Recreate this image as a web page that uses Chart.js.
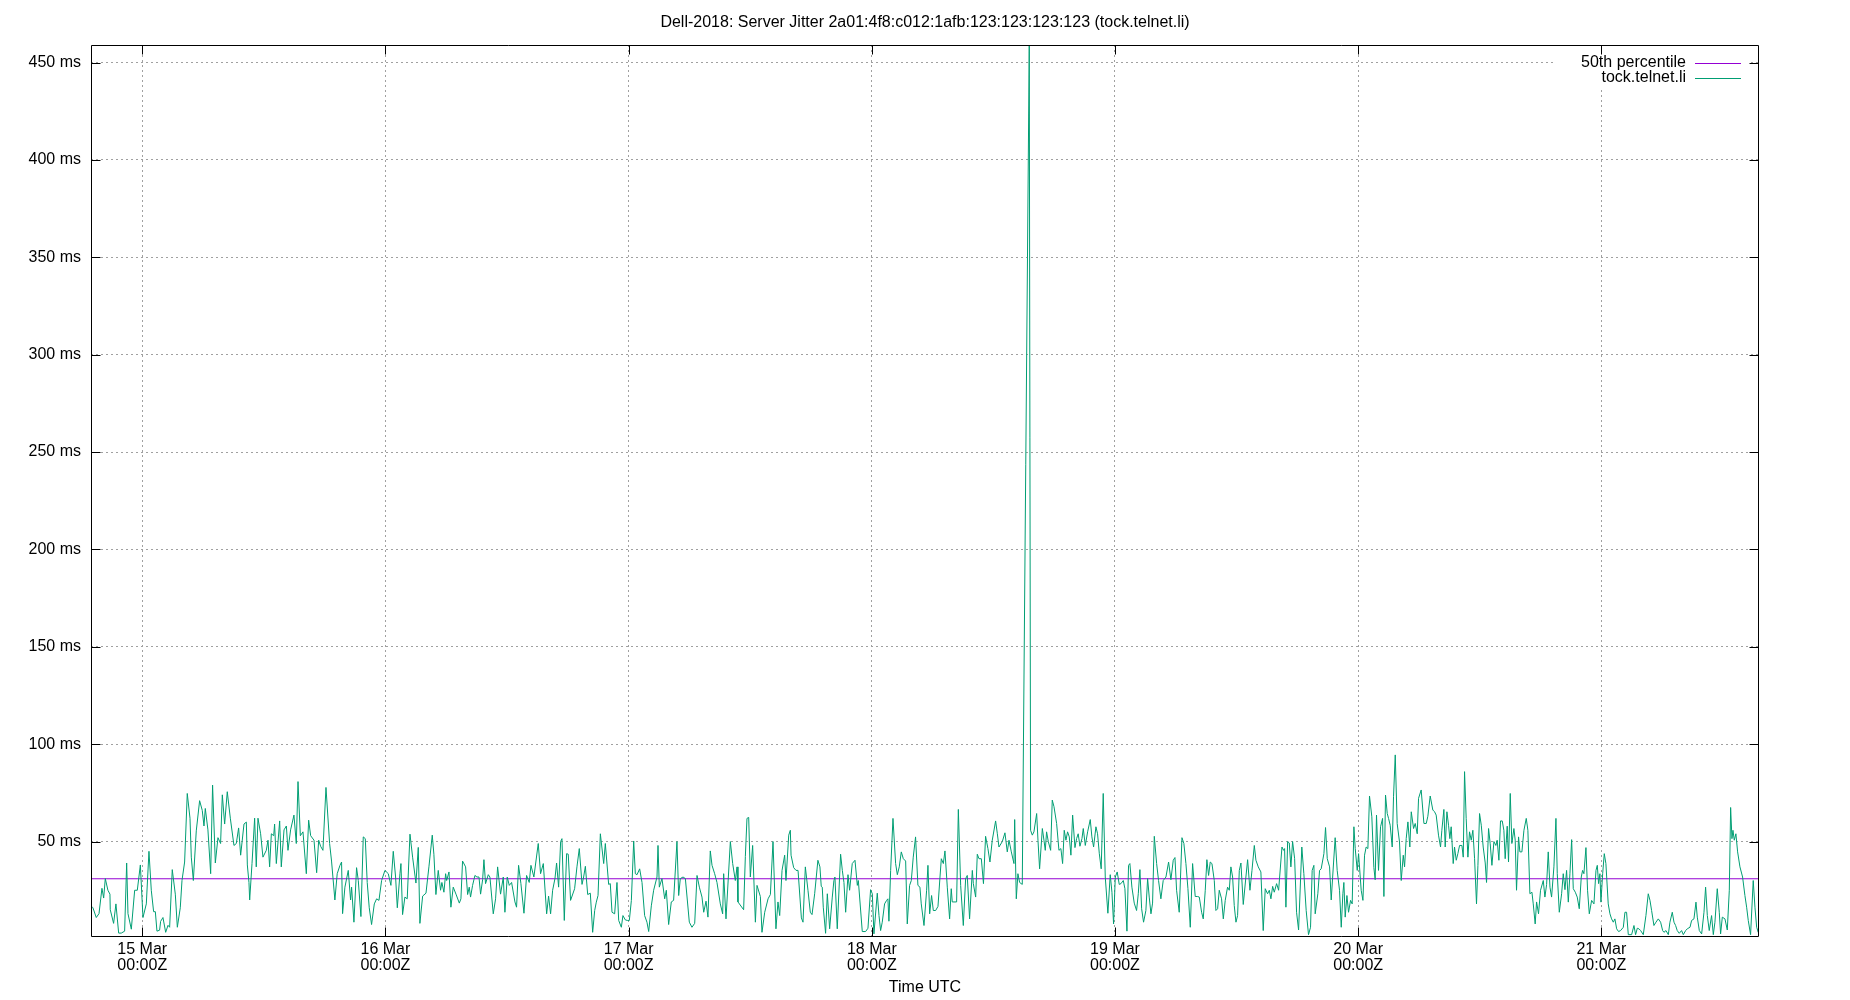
<!DOCTYPE html>
<html><head><meta charset="utf-8">
<script src="https://cdn.jsdelivr.net/npm/chart.js@4.4.1/dist/chart.umd.min.js"></script>
<style>html,body{margin:0;padding:0;background:#fff;}canvas{display:block;}</style>
</head><body>
<canvas id="c" width="1850" height="1000"></canvas>
<script>
const titleText = "Dell-2018: Server Jitter 2a01:4f8:c012:1afb:123:123:123:123 (tock.telnet.li)";
const xAxisTitle = "Time UTC";
const seriesNames = ["50th percentile", "tock.telnet.li"];
const xTickHours = [0, 24, 48, 72, 96, 120, 144];
const xTickLabels = [["15 Mar","00:00Z"],["16 Mar","00:00Z"],["17 Mar","00:00Z"],["18 Mar","00:00Z"],["19 Mar","00:00Z"],["20 Mar","00:00Z"],["21 Mar","00:00Z"]];
const yTickValues = [50, 100, 150, 200, 250, 300, 350, 400, 450];
const xRange = [-5.06, 159.56];
const yRange = [1, 459];
const p50 = [30.9, 30.9];

// hours since 15 Mar 00:00Z, jitter in ms
const hoursA = [-5.06,-4.87,-4.54,-4.27,-3.98,-3.81,-3.65,-3.39,-3.19,-3.16,
-2.83,-2.6,-2.33,-2.07,-1.74,-1.54,-1.41,-1.08,-0.75,-0.49,
-0.19,0.07,0.4,0.66,0.89,1.12,1.29,1.45,1.71,1.81,
2.04,2.31,2.54,2.7,2.96,3.26,3.46,3.75,3.92,4.18,
4.44,4.71,4.84,5.04,5.33,5.66,5.92,6.09,6.22,6.48,
6.75,6.94,7.21,7.47,7.73,7.9,8.13,8.39,8.69,9.05,
9.28,9.51,9.71,10.04,10.27,10.37,10.53,10.6,10.83,11.09,
11.25,11.42,11.68,11.91,12.24,12.41,12.57,12.74,12.97,13.06,
13.23,13.56,13.72,13.99,14.22,14.38,14.64,14.97,15.2,15.37,
15.6,15.86,16.19,16.42,16.62,16.95,17.21,17.41,17.6,17.83,
18.13,18.49];
const jitterA = [17,16,11,13,26,21,31,25,23,15,
8,18,3,3,4,39,13,5,25,25,
38,11,18,45,25,14,14,4,4.5,9,
11,3.4,7,6,35.6,23,6,16,30,39.5,
74.7,62,42,30,55.5,71,66,58,67,56,
33.5,79,39,52,49,74,59,75.6,62,48,
49,57,43,59,60,38,29,20,38.7,62,
37,62,54,42,45.5,50.7,37,54,53,59,
38.7,60.6,37,56,58,45.5,56,63.6,49,80.8,
53,55,33.5,61,53,50.7,34,50.7,47.6,45.5,
77.8,49];

const hoursB = [18.68,19.01,19.24,19.51,19.67,19.77,20,20.33,20.56,20.66,
20.89,21.15,21.32,21.58,21.81,22.01,22.2,22.4,22.63,22.9,
23.13,23.36,23.62,23.95,24.28,24.54,24.77,25,25.17,25.43,
25.53,25.69,25.92,26.15,26.42,26.68,27.01,27.24,27.4,27.67,
28,28.29,28.62,28.78,28.98,29.21,29.44,29.57,29.77,29.94,
30.04,30.27,30.46,30.69,30.96,31.29,31.45,31.61,31.91,32.11,
32.27,32.4,32.6,32.83,33.03,33.23,33.39,33.59,33.72,33.88,
34.15,34.31,34.64,34.87,35.07,35.36,35.63,35.79,36.02,36.22,
36.45,36.78,36.94,37.14,37.37,37.67,37.93,38.19,38.36,38.65,
39.08,39.31,39.58,39.91,40.1,40.3,40.5,40.73,40.89,41.09,
41.29,41.42,41.65,41.88,42.04,42.27];
const jitterB = [40,20,33.5,37.8,39.5,13,26.6,35.2,20,26.6,
8.6,36.6,30,11.5,52.4,51.5,29,16,7.4,18,
20.6,19.8,30,35.2,33.5,27.5,45,31.8,16,33.5,
38.7,12.5,21.5,20.6,53.8,42,28.7,47,8,22,
23.5,37,53.3,43.5,22.8,35.2,25,29,24,33.5,
30,34.4,16.3,26.6,23,18.4,20.6,40,37,22.8,
26.6,21.5,27.5,32.6,31.8,31.8,23,30.4,40.7,28.4,
33,31.8,12.9,20.6,37,23,31.8,13.7,31.8,27.5,
29,19,16.3,37.8,28.4,13.2,32.6,29,37.8,31.8,
49,33.5,38.7,12.9,22,12.9,25,31,39,26.6,
50,51.5,9.5,43.8,43.5,19.8];

const hoursC = [42.67,42.9,43.13,43.4,43.56,43.73,43.96,44.22,44.45,44.65,
44.81,44.98,45.21,45.54,45.7,46.03,46.19,46.36,46.62,46.85,
47.02,47.28,47.44,47.67,47.87,48.07,48.27,48.5,48.66,48.83,
49.09,49.32,49.58,49.81,49.98,50.24,50.47,50.8,50.9,51.03,
51.29,51.56,51.72,51.95,52.21,52.44,52.77,52.94,53.1,53.37,
53.6,53.99,54.25,54.52,54.75,54.98,55.24,55.41,55.64,55.83,
56.06,56.23,56.49,56.72,57.05,57.28,57.38,57.61,58.04,58.27,
58.53,58.7,58.79,59.35,59.52,59.68,59.85,60.01,60.24,60.51,
60.67,61,61.16,61.43,61.76,61.99,62.25,62.54,62.74,62.91,
63.14,63.4,63.53,63.8,63.96,64.03,64.29,64.52,64.72,65.05,
65.21,65.44,65.7,65.93,66.1,66.36];
const jitterC = [25.8,37,46.4,28,31.8,37.3,22.8,23.5,3.4,14.6,
18.9,22.3,54,38.7,49,28,28.4,13.7,12.9,29,
9.5,6,12,9.8,9.5,9.5,19.8,50.3,33.5,33,
36,29,12,8.6,3.8,17,25,31.8,48,26.6,
31,20.6,25,7.4,19,19.8,50,22.3,31,31.8,
31,8.6,6,8,32.6,26.6,21.5,13.7,19.4,11.2,
45.2,37.8,33.5,29,18,12.9,33.5,10.3,50,38.7,
30,37,19,15,42.4,61.9,62.4,31.8,48,8.6,
27.5,21.8,3.4,13.7,20.6,22.8,50,5.2,19,12,
35.2,43,30,53.3,55.8,43,36.6,35.2,35.2,10.8,
8.6,37,25,13.7,12.5,23.2];

const hoursD = [66.68,66.88,67.01,67.11,67.21,67.44,67.61,67.84,68.1,68.26,
68.36,68.59,68.92,69.09,69.25,69.42,69.65,69.81,70.07,70.34,
70.57,70.67,71.06,71.39,71.62,71.88,72.05,72.21,72.54,72.71,
72.87,73.03,73.26,73.46,73.59,73.69,73.86,74.09,74.35,74.52,
74.71,74.91,75.11,75.34,75.5,75.73,75.9,76.09,76.32,76.55,
76.75,76.88,77.15,77.41,77.54,77.71,77.9,78.07,78.3,78.53,
78.73,78.86,79.06,79.22,79.45,79.68,79.84,79.94,80.37,80.54,
80.77,81.03,81.26,81.42,81.65,81.92,82.02,82.25,82.41,82.58,
82.81,83.02,83.23,83.46,83.66,83.89,84.22,84.39,84.55,84.88,
85.14,85.37,85.54,85.77,86.03,86.1,86.26,86.42,86.59,86.85,
87.54,87.67,87.84,88,88.27,88.4,88.56,88.83,88.99,89.12,
89.25,89.42,89.65,89.81,89.98,90.24,90.47];
const jitterD = [40.4,37,27,26.6,16.3,2.9,23.2,5.2,21.5,30,
31.8,5.2,43.5,35.2,29,13.7,33,25,38.7,40.4,
27.5,30,3.8,3.8,5.5,25.3,23.2,2.6,23.5,12,
4.3,8.6,18,19.8,20.6,9.1,35.2,61.9,38.7,33,
37,44.7,41.2,40,7.7,27.5,30,42,52.4,27.5,
26.6,18,6.9,25,37.8,12.9,22.3,14.6,14.6,16.7,
31.8,41.2,38.7,45.2,26.6,10.3,25.8,19,19,66.5,
27.5,6.9,31,32.6,10.3,35.2,28.4,21.5,43.5,41.2,
41.2,28.4,52.7,46.4,39.5,50.7,60.6,54,47.2,50,
54.5,44.7,50.7,44.7,38.7,61.3,20.6,33.5,29,28,
460,55.8,53.3,55,64.4,50.7,36,56.7,50.7,45.5,
55,50,45.5,71.3,67.9,59.3,45.5];

const hoursE = [90.66,90.83,90.99,91.16,91.32,91.49,91.65,91.82,92.05,92.21,
92.37,92.54,92.74,92.87,93.07,93.3,93.56,93.72,93.89,94.12,
94.28,94.45,94.64,94.84,95.04,95.3,95.53,95.7,95.86,96.03,
96.22,96.42,96.59,96.82,96.98,97.18,97.34,97.47,97.67,97.9,
98.13,98.3,98.46,98.63,98.82,99.05,99.22,99.38,99.55,99.71,
99.88,100.11,100.3,100.53,100.76,101.03,101.29,101.52,101.75,101.92,
102.08,102.34,102.61,102.8,103,103.2,103.43,103.66,103.92,104.15,
104.32,104.55,104.71,104.91,105.07,105.24,105.4,105.57,105.8,105.96,
106.13,106.29,106.52,106.69,106.88,107.11,107.28,107.44,107.61,107.77,
107.94,108.1,108.27,108.43,108.66,108.92,109.09,109.32,109.52,109.75,
109.91,110.14,110.4,110.63,110.83,111.06,111.23,111.39,111.56,111.72,
111.95,112.15,112.48,112.64,112.74,112.87,113.04,113.2,113.36,113.53,
113.73,113.92,114.12];
const jitterE = [46.4,38.7,55.8,50.7,55,52.4,43,63.6,46.9,51.5,
54,47.6,51.5,56.7,48,55,61.3,52.4,47.2,57.6,
54,44,36,74.7,31.8,13.2,33,24,7.7,31.8,
34.4,28,28.4,30,25.8,4,37.8,38.7,26.6,18.4,
14.6,23.2,35.6,15.5,8.6,14.6,31,21.5,12.9,18.4,
52.7,38.7,30,20.6,30,31.8,39.5,30.4,40.4,41.8,
25,13.7,52,49,38.7,25.8,6,38.7,21.8,21.8,
21.5,13.7,10.3,25,40.7,32.6,39.5,38.7,30,14.6,
15.5,25,20.6,10.3,19.8,26.6,25,37,31.8,17.2,
8.6,12,35.2,39,17.7,31.8,40.7,25,35.2,48,
40.4,37,34.4,4.3,25.8,23.2,25,20.6,27,24,
28.4,25,47.2,45.5,46.4,16.3,50,49.3,37,50,
41.2,13.7,4.6];

const hoursF = [114.44,114.64,114.87,115.1,115.3,115.46,115.63,115.76,116.02,116.19,
116.35,116.62,116.78,116.95,117.18,117.34,117.57,117.73,117.93,118.16,
118.33,118.49,118.59,118.72,118.89,119.05,119.25,119.41,119.58,119.71,
119.91,120.04,120.3,120.47,120.63,120.79,120.96,121.12,121.35,121.55,
121.68,121.81,122.01,122.21,122.41,122.54,122.7,122.87,123,123.16,
123.36,123.49,123.66,123.85,124.08,124.25,124.45,124.58,124.74,124.91,
125.1,125.24,125.47,125.63,125.83,125.96,126.22,126.49,126.72,126.88,
127.11,127.37,127.54,127.7,127.93,128.13,128.26,128.46,128.59,128.76,
128.92,129.05,129.18,129.38,129.51,129.68,129.84,130.01,130.24,130.37,
130.5,130.66,130.83,130.99,131.16,131.32,131.49,131.68,131.82,131.98,
132.15,132.34,132.54,132.67,132.87,133.03,133.2,133.4,133.59,133.72,
133.89,134.05,134.22,134.38,134.51,134.71,134.84,135.01,135.17,135.37,
135.5,135.63,135.83,135.96,136.16,136.36,136.59,136.75,136.95,137.15,
137.28,137.47,137.61,137.8,138];
const jitterF = [47.2,33.5,14.6,2.2,6,35.2,37.8,12.9,23.2,35.2,
36,43.8,57.2,41.2,37,20,39,52,35.2,25,
6,23.2,29,11.2,22.3,13.7,19.8,18,57.6,46.4,
35.2,43.8,25,19.8,43,47.2,46.4,73.4,62.7,36.6,
30.4,63.6,35.2,57.6,61.9,21.8,73.9,64.4,61.9,58.4,
47.2,73,94.5,59.3,49.8,30,43,37,51.5,60.1,
47.2,65.3,56.7,59.3,54,72.2,76.5,59.3,59.3,63,
73.4,66.2,65.3,63.6,53.3,47.2,55.8,66.5,47.2,65.3,
58.4,51.5,57.6,38.7,47.2,40.4,43.8,48,48,42,
85.9,61.9,42,55,50.7,55.8,41.2,18,37.8,64.4,
58.4,47.2,39,29,56.7,49,37.8,50,48,50.7,
40.4,60.6,60.6,55.8,41.2,57.9,39.5,74.7,49,56.7,
50.7,25,52.4,44.7,44.7,55.8,61.9,55.8,23.2,24,
18,7.7,19,12.9,25];

const hoursG = [138.27,138.43,138.6,138.76,138.93,139.09,139.32,139.52,139.65,139.85,
140.08,140.24,140.41,140.57,140.74,140.9,141.07,141.23,141.43,141.62,
141.82,142.02,142.15,142.28,142.48,142.64,142.81,143.04,143.27,143.47,
143.6,143.73,143.86,143.96,144.13,144.29,144.45,144.68,144.85,145.01,
145.18,145.34,145.51,145.7,145.9,146.17,146.33,146.49,146.66,146.99,
147.22,147.38,147.55,147.71,147.88,148.14,148.4,148.63,148.8,148.96,
149.19,149.39,149.62,149.85,150.05,150.18,150.38,150.61,150.77,151,
151.17,151.33,151.49,151.69,151.92,152.09,152.32,152.48,152.75,152.91,
153.14,153.34,153.47,153.67,153.9,154.13,154.29,154.46,154.65,154.88,
155.05,155.21,155.44,155.64,155.77,155.94,156.2,156.43,156.63,156.76,
156.89,156.99,157.12,157.28,157.45,157.68,157.94,158.17,158.34,158.5,
158.73,158.99,159.16,159.33,159.49,159.56];
const jitterG = [30,21.5,28,44.7,26.6,21.5,37,61.9,33.5,13.7,
23.2,33.5,25.3,35.2,18.9,33.5,51,25.8,24,21.5,
15.5,31.8,35.2,33.5,46.9,25,12.9,19.8,18,35.2,
37.8,28.4,33.5,18.9,33.5,43.8,38.7,18,12.9,10.3,
8.6,10.3,5.2,3.8,4.3,6,13.7,13.7,2.2,2.2,
6.9,2.2,5.5,5.2,4.3,2.2,12,23.2,19.8,14.6,
6.9,8.6,10.3,8.6,4.3,3.4,4.3,2.2,8.6,13.7,
8.6,6.9,4.3,2.9,4.3,2.2,4.3,5.2,6,9.5,
10.3,18.9,11.2,4.3,2.6,13.7,26.6,12,4.3,12,
2.2,8.6,25.8,13.7,2.6,11.2,10.3,4.6,25,67.5,
51.5,55.8,50.7,54,44.7,37,31.8,22.3,16.3,9.5,
2.2,30,16.3,6,3.4,8.6];

const hours = [].concat(hoursA, hoursB, hoursC, hoursD, hoursE, hoursF, hoursG);
const jitter = [].concat(jitterA, jitterB, jitterC, jitterD, jitterE, jitterF, jitterG);

const FONT = '"Liberation Sans", Arial, sans-serif';
const COLORS = ['#9400d3', '#009e73'];

const framePlugin = {
  id: 'gnuFrame',
  beforeDatasetsDraw(chart) {
    const {ctx, chartArea: a} = chart;
    ctx.save();
    ctx.fillStyle = '#fff';
    ctx.fillRect(a.right - 206, a.top + 1, 197, 41);
    ctx.font = '16px ' + FONT;
    ctx.textAlign = 'right';
    ctx.textBaseline = 'middle';
    chart.data.datasets.forEach((ds, i) => {
      const yy = a.top + 17.5 + i * 15.5;
      ctx.fillStyle = '#000';
      ctx.fillText(ds.label, a.right - 73, yy);
      ctx.strokeStyle = ds.borderColor;
      ctx.lineWidth = 1;
      ctx.beginPath();
      ctx.moveTo(a.right - 64, Math.round(yy) + 0.5);
      ctx.lineTo(a.right - 18, Math.round(yy) + 0.5);
      ctx.stroke();
    });
    ctx.restore();
  },
  afterDatasetsDraw(chart) {
    const {ctx, chartArea: a, scales: {x, y}} = chart;
    ctx.save();
    ctx.strokeStyle = '#000';
    ctx.lineWidth = 1;
    const L = Math.round(a.left) + 0.5, R = Math.round(a.right) - 0.5;
    const T = Math.round(a.top) + 0.5, B = Math.round(a.bottom) - 0.5;
    ctx.beginPath();
    ctx.rect(L, T, R - L, B - T);
    yTickValues.forEach(v => {
      const py = Math.round(y.getPixelForValue(v)) + 0.5;
      ctx.moveTo(L, py); ctx.lineTo(L + 9, py);
      ctx.moveTo(R, py); ctx.lineTo(R - 9, py);
    });
    xTickHours.forEach(v => {
      const px = Math.round(x.getPixelForValue(v)) + 0.5;
      ctx.moveTo(px, B); ctx.lineTo(px, B - 9);
      ctx.moveTo(px, T); ctx.lineTo(px, T + 9);
    });
    ctx.stroke();
    ctx.restore();
  }
};

new Chart(document.getElementById('c'), {
  type: 'line',
  data: {
    datasets: [
      {
        label: seriesNames[0],
        data: [{x: xRange[0], y: p50[0]}, {x: xRange[1], y: p50[1]}],
        borderColor: COLORS[0], borderWidth: 1, pointRadius: 0, tension: 0, order: 2
      },
      {
        label: seriesNames[1],
        data: hours.map((h, i) => ({x: h, y: jitter[i]})),
        borderColor: COLORS[1], borderWidth: 1, pointRadius: 0, tension: 0, order: 1
      }
    ]
  },
  options: {
    responsive: false,
    animation: false,
    devicePixelRatio: 1,
    layout: {padding: {left: 0, right: 0, top: 0, bottom: 0}},
    plugins: {
      legend: {display: false},
      tooltip: {enabled: false},
      title: {
        display: true, text: titleText, color: '#000',
        font: {family: FONT, size: 16, weight: 'normal', lineHeight: 1.2},
        padding: {top: 13, bottom: 12.8}
      }
    },
    scales: {
      x: {
        type: 'linear', min: xRange[0], max: xRange[1],
        afterBuildTicks: s => { s.ticks = xTickHours.map(v => ({value: v})); },
        afterFit: s => { s.height = 63; },
        ticks: {
          autoSkip: false, maxRotation: 0, padding: 5, color: '#000',
          font: {family: FONT, size: 16, lineHeight: 1.0},
          callback: v => { const i = xTickHours.indexOf(v); return i >= 0 ? xTickLabels[i] : ''; }
        },
        grid: {color: '#a0a0a0', lineWidth: 1, drawTicks: false},
        border: {display: false, dash: [2, 3]},
        title: {display: true, text: xAxisTitle, color: '#000',
          font: {family: FONT, size: 16, lineHeight: 1.2}, padding: {top: 0, bottom: 3}}
      },
      y: {
        type: 'linear', min: yRange[0], max: yRange[1],
        afterBuildTicks: s => { s.ticks = yTickValues.map(v => ({value: v})); },
        afterFit: s => { s.width = 91; },
        ticks: {padding: 10, color: '#000', font: {family: FONT, size: 16},
          callback: v => v + ' ms'},
        grid: {color: '#a0a0a0', lineWidth: 1, drawTicks: false},
        border: {display: false, dash: [2, 3]}
      },
      yRight: {
        type: 'linear', position: 'right', min: yRange[0], max: yRange[1],
        afterFit: s => { s.width = 91; },
        ticks: {display: false},
        grid: {display: false, drawTicks: false},
        border: {display: false}
      }
    }
  },
  plugins: [framePlugin]
});
</script>
</body></html>
